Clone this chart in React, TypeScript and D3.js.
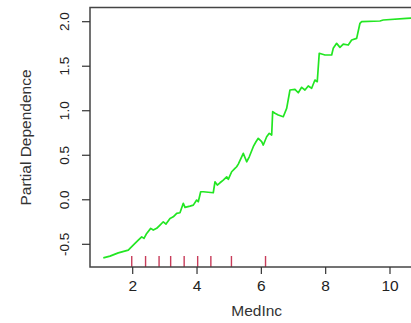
import React from "react";
import * as d3 from "d3";

const medIncX = [1.086, 1.294, 1.552, 1.863, 1.916, 2.071, 2.174, 2.28, 2.351, 2.435, 2.56, 2.64, 2.746, 2.849, 2.951, 3.035, 3.16, 3.262, 3.368, 3.47, 3.573, 3.626, 3.781, 3.884, 3.989, 4.039, 4.114, 4.195, 4.505, 4.558, 4.63, 4.714, 4.816, 4.922, 4.972, 5.077, 5.18, 5.232, 5.283, 5.388, 5.438, 5.544, 5.625, 5.749, 5.833, 5.904, 6.01, 6.06, 6.165, 6.246, 6.321, 6.352, 6.424, 6.526, 6.681, 6.787, 6.89, 7.045, 7.148, 7.253, 7.356, 7.458, 7.564, 7.666, 7.738, 7.8, 7.978, 8.186, 8.235, 8.341, 8.444, 8.547, 8.702, 8.808, 8.963, 9.066, 9.118, 9.687, 9.79, 10.517, 11.2];
const partialDep = [-0.652, -0.633, -0.596, -0.565, -0.546, -0.49, -0.453, -0.416, -0.434, -0.378, -0.321, -0.34, -0.321, -0.284, -0.247, -0.273, -0.209, -0.191, -0.153, -0.146, -0.04, -0.085, -0.071, -0.06, -0.003, -0.022, 0.09, 0.09, 0.079, 0.202, 0.165, 0.191, 0.221, 0.258, 0.229, 0.315, 0.353, 0.371, 0.401, 0.483, 0.521, 0.427, 0.483, 0.596, 0.652, 0.69, 0.652, 0.615, 0.708, 0.746, 0.727, 0.989, 0.971, 0.952, 0.933, 1.027, 1.233, 1.24, 1.202, 1.263, 1.233, 1.278, 1.252, 1.345, 1.326, 1.645, 1.626, 1.626, 1.701, 1.757, 1.712, 1.749, 1.738, 1.794, 1.813, 1.982, 2.0, 2.008, 2.019, 2.038, 2.045];
const rugDeciles = [1.97, 2.4, 2.82, 3.18, 3.6, 4.02, 4.43, 5.07, 6.13];
const xTicks = [2, 4, 6, 8, 10];
const yTicks = [-0.5, 0.0, 0.5, 1.0, 1.5, 2.0];
const xTitle = "MedInc";
const yTitle = "Partial Dependence";

export default function App() {
  const W = 411, H = 323;
  const left = 90, top = 7.5, bottom = 267, right = 424;
  const x = d3.scaleLinear().domain([2, 10]).range([132.7, 390]);
  const y = d3.scaleLinear().domain([-0.5, 2.0]).range([244.3, 21.7]);
  const pts: [number, number][] = medIncX.map((v, i) => [v, partialDep[i]]);
  const line = d3.line<[number, number]>().x(d => x(d[0])).y(d => y(d[1])).curve(d3.curveLinear);
  const font = "'Liberation Sans', Arial, sans-serif";
  return (
    <svg width={W} height={H} style={{ position: "absolute", left: 0, top: 0, background: "#fff" }} fontFamily={font}>
      <rect x={0} y={0} width={W} height={H} fill="#fff" />
      {rugDeciles.map((d, i) => (
        <line key={i} x1={x(d)} x2={x(d)} y1={256} y2={bottom} stroke="#c83c5a" strokeWidth={1.4} />
      ))}
      <path d={line(pts) || ""} fill="none" stroke="#22e622" strokeWidth={1.7} strokeLinejoin="round" />
      <rect x={left} y={top} width={right - left} height={bottom - top} fill="none" stroke="#444" strokeWidth={1.5} />
      {xTicks.map(t => (
        <g key={t}>
          <line x1={x(t)} x2={x(t)} y1={bottom} y2={274} stroke="#333" strokeWidth={1.2} />
          <text x={x(t)} y={290.5} textAnchor="middle" fontSize={15.5} fill="#222">{t}</text>
        </g>
      ))}
      {yTicks.map(t => (
        <g key={t}>
          <line x1={82} x2={left} y1={y(t)} y2={y(t)} stroke="#333" strokeWidth={1.2} />
          <text transform={`translate(68.5,${y(t)}) rotate(-90)`} textAnchor="middle" fontSize={13.5} fill="#222">{t.toFixed(1)}</text>
        </g>
      ))}
      <text x={256.7} y={316} textAnchor="middle" fontSize={15.5} fill="#333">{xTitle}</text>
      <text transform={`translate(30.5,137.5) rotate(-90)`} textAnchor="middle" fontSize={15.5} fill="#333">{yTitle}</text>
    </svg>
  );
}
